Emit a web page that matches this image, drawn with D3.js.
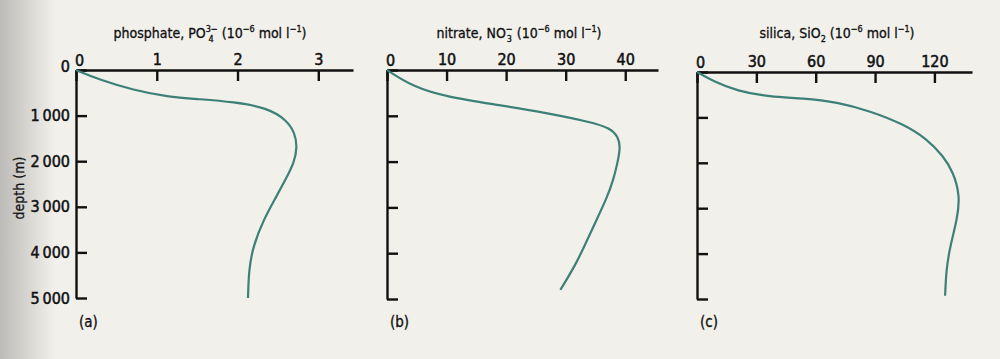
<!DOCTYPE html>
<html>
<head>
<meta charset="utf-8">
<script src="https://cdn.jsdelivr.net/npm/d3@7"></script>
<style>
  body { margin: 0; background: #f2f0eb; }
  svg { display: block; }
  text { font-family: "DejaVu Sans Condensed", "Liberation Sans Narrow", "Liberation Sans", Arial, sans-serif; fill: #111; }
</style>
</head>
<body>
<svg id="chart" width="1000" height="359"></svg>
<script>
// depth values in metres
var phosDepth = [0, 220, 440, 590, 640, 700, 830, 1100, 1380, 1690, 2040, 2350, 2780, 3290, 3880, 4390, 5000];
var phosValue = [0, 0.30, 0.71, 1.13, 1.54, 1.95, 2.37, 2.61, 2.71, 2.74, 2.70, 2.61, 2.48, 2.32, 2.19, 2.14, 2.13];

var nitDepth = [0, 370, 590, 760, 940, 1135, 1265, 1460, 1680, 2030, 2400, 2770, 3430, 4210, 4800];
var nitValue = [0, 4.4, 10.1, 18.5, 26.9, 34.1, 37.5, 38.8, 39.2, 38.7, 38.0, 37.0, 34.6, 31.9, 29.1];

var silDepth = [0, 200, 420, 550, 575, 660, 860, 1145, 1475, 1850, 2200, 2730, 3240, 3830, 4340, 4930];
var silValue = [0, 8.1, 20.2, 36.9, 53.6, 70.8, 87.5, 104.2, 116.3, 124.4, 129.5, 133.0, 131.5, 128.0, 126.0, 125.4];

var phosTicks = [0, 1, 2, 3];
var nitTicks = [0, 10, 20, 30, 40];
var silTicks = [0, 30, 60, 90, 120];
var depthTicks = [0, 1000, 2000, 3000, 4000, 5000];

var svg = d3.select("#chart");

// scanned page shading on the left edge
var defs = svg.append("defs");
var grad = defs.append("linearGradient").attr("id", "shade");
grad.append("stop").attr("offset", "0%").attr("stop-color", "#bdbbb7");
grad.append("stop").attr("offset", "100%").attr("stop-color", "#f2f0eb");
svg.append("rect").attr("width", 55).attr("height", 359).attr("fill", "url(#shade)");

var panels = [
  {x0: 76, y0: 70, x1: 353, y1: 298, max: 3.43, ticks: phosTicks, depth: phosDepth, value: phosValue,
   name: "phosphate, PO", sub: "4", sup: "3\u2212", tx: 210, tag: "(a)", labels: true},
  {x0: 387, y0: 70, x1: 658, y1: 299, max: 45.5, ticks: nitTicks, depth: nitDepth, value: nitValue,
   name: "nitrate, NO", sub: "3", sup: "\u2212", tx: 519, tag: "(b)", labels: false},
  {x0: 697, y0: 72, x1: 972, y1: 299, max: 139, ticks: silTicks, depth: silDepth, value: silValue,
   name: "silica, SiO", sub: "2", sup: null, tx: 837, tag: "(c)", labels: false}
];

panels.forEach(function(p) {
  var x = d3.scaleLinear().domain([0, p.max]).range([p.x0, p.x1]);
  var y = d3.scaleLinear().domain([0, 5000]).range([p.y0, p.y1]);

  var xAxis = d3.axisTop(x).tickValues(p.ticks).tickFormat(d3.format("d"))
    .tickSizeInner(-11).tickSizeOuter(0).tickPadding(5);
  var gx = svg.append("g").attr("transform", "translate(0," + p.y0 + ")").call(xAxis);

  var yAxis = d3.axisLeft(y).tickValues(depthTicks).tickSizeInner(-11).tickSizeOuter(0).tickPadding(6)
    .tickFormat(function(d) { return p.labels ? d3.format(",")(d).replace(",", "\u2009") : ""; });
  var gy = svg.append("g").attr("transform", "translate(" + p.x0 + ",0)").call(yAxis);
  gy.selectAll("text").filter(function(d) { return d === 0; }).attr("dy", "0.1em");

  [gx, gy].forEach(function(g) {
    g.selectAll("path, line").attr("stroke", "#111").attr("stroke-width", 2.4);
    g.selectAll("text").attr("font-size", 16).attr("fill", "#111")
      .attr("stroke", "#111").attr("stroke-width", 0.5);
  });
  gx.selectAll("text").filter(function(d) { return d === 0; }).attr("x", 3).attr("y", -4);

  var line = d3.line()
    .x(function(d, i) { return x(p.value[i]); })
    .y(function(d) { return y(d); })
    .curve(d3.curveBasis);

  svg.append("path")
    .datum(p.depth)
    .attr("d", line)
    .attr("fill", "none")
    .attr("stroke", "#3c8077")
    .attr("stroke-width", 2.2);

  // title with sub/superscripts
  var t = svg.append("text").attr("x", p.tx).attr("y", 38).attr("text-anchor", "middle")
    .attr("font-size", 14).attr("stroke", "#111").attr("stroke-width", 0.3);
  t.append("tspan").text(p.name);
  if (p.sup) {
    t.append("tspan").attr("font-size", 9).attr("dy", -6).text(p.sup);
    t.append("tspan").attr("font-size", 9).attr("dx", p.sup.length > 1 ? -9 : -6).attr("dy", 10).text(p.sub);
    t.append("tspan").attr("dy", -4).attr("dx", p.sup.length > 1 ? 4 : 1).text(" (10");
  } else {
    t.append("tspan").attr("font-size", 9).attr("dy", 4).text(p.sub);
    t.append("tspan").attr("dy", -4).text(" (10");
  }
  t.append("tspan").attr("font-size", 9).attr("dy", -6).text("\u22126");
  t.append("tspan").attr("dy", 6).text(" mol l");
  t.append("tspan").attr("font-size", 9).attr("dy", -6).text("\u22121");
  t.append("tspan").attr("dy", 6).text(")");

  svg.append("text").attr("x", p.x0 + 3).attr("y", 327).attr("font-size", 15)
    .attr("stroke", "#111").attr("stroke-width", 0.3).text(p.tag);
});

svg.append("text")
  .attr("transform", "translate(24,188) rotate(-90)")
  .attr("text-anchor", "middle")
  .attr("font-size", 14)
  .attr("stroke", "#111").attr("stroke-width", 0.3)
  .text("depth (m)");
</script>
</body>
</html>
